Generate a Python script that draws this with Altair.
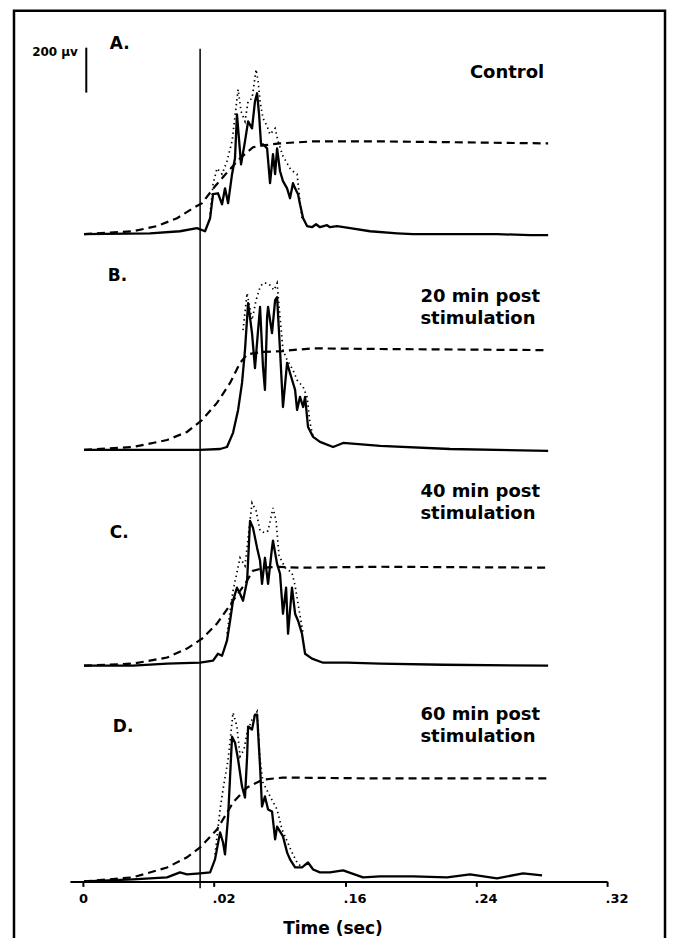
import altair as alt
import pandas as pd

# ---------------- data (time in s, amplitude in µV above each trace's baseline) ----------------
traces = ["A", "B", "C", "D"]
trace_offsets = [2880, 1920, 960, 0]   # vertical stacking of the four records (µV)

A_solid = [(0.0006, 0), (0.0409, 4), (0.0592, 13), (0.0696, 27), (0.0745, 13), (0.0776, 71), (0.0794, 178),
           (0.0824, 182), (0.0849, 133), (0.0867, 204), (0.0886, 138), (0.0910, 267), (0.0928, 338), (0.0940, 533),
           (0.0965, 311), (0.0989, 413), (0.1008, 502), (0.1032, 471), (0.1050, 591), (0.1063, 627), (0.1075, 533),
           (0.1087, 400), (0.1099, 400), (0.1124, 382), (0.1142, 227), (0.1160, 356), (0.1173, 267), (0.1185, 382),
           (0.1203, 280), (0.1221, 236), (0.1246, 204), (0.1264, 160), (0.1282, 227), (0.1295, 204), (0.1313, 178),
           (0.1325, 133), (0.1344, 71), (0.1368, 36), (0.1398, 31), (0.1423, 44), (0.1447, 31), (0.1490, 40),
           (0.1508, 31), (0.1551, 36), (0.1631, 27), (0.1753, 13), (0.1918, 4), (0.2015, 0), (0.2321, 0),
           (0.2528, 0), (0.2730, -4), (0.2840, -4)]
A_dotted = [(0.0776, 90), (0.0794, 222), (0.0818, 293), (0.0849, 267), (0.0879, 324), (0.0910, 413), (0.0947, 644),
            (0.0965, 547), (0.0989, 502), (0.1008, 591), (0.1032, 604), (0.1057, 733), (0.1069, 680), (0.1081, 591),
            (0.1099, 516), (0.1124, 480), (0.1142, 444), (0.1173, 471), (0.1191, 413), (0.1221, 347), (0.1264, 293),
            (0.1282, 280), (0.1307, 267), (0.1325, 147), (0.1337, 71)]
A_dashed = [(0.0006, 0), (0.0305, 13), (0.0452, 36), (0.0574, 71), (0.0672, 116), (0.0727, 138), (0.0806, 213),
            (0.0886, 280), (0.0959, 338), (0.1038, 387), (0.1111, 396), (0.1203, 404), (0.1405, 413), (0.1814, 413),
            (0.2840, 404)]

B_solid = [(0.0006, 0), (0.0715, 0), (0.0837, 4), (0.0879, 13), (0.0916, 76), (0.0947, 178), (0.0971, 298),
           (0.0989, 444), (0.1008, 653), (0.1032, 520), (0.1050, 364), (0.1069, 533), (0.1081, 636), (0.1099, 369),
           (0.1111, 267), (0.1124, 591), (0.1130, 636), (0.1154, 520), (0.1173, 667), (0.1185, 680), (0.1203, 444),
           (0.1221, 191), (0.1246, 387), (0.1264, 342), (0.1295, 267), (0.1307, 178), (0.1325, 236), (0.1344, 191),
           (0.1356, 236), (0.1374, 102), (0.1405, 58), (0.1447, 36), (0.1527, 13), (0.1588, 31), (0.1814, 18),
           (0.2241, 4), (0.2840, -4)]
B_dotted = [(0.0977, 533), (0.1002, 698), (0.1032, 578), (0.1057, 667), (0.1081, 724), (0.1099, 742), (0.1124, 742),
            (0.1142, 733), (0.1166, 711), (0.1185, 742), (0.1203, 591), (0.1221, 444), (0.1246, 400), (0.1282, 356),
            (0.1307, 311), (0.1344, 280), (0.1368, 236), (0.1386, 120), (0.1405, 58)]
B_dashed = [(0.0006, 0), (0.0305, 13), (0.0513, 44), (0.0635, 80), (0.0727, 133), (0.0818, 209), (0.0898, 298),
            (0.0959, 387), (0.1002, 425), (0.1093, 436), (0.1221, 440), (0.1307, 446), (0.1405, 452), (0.1814, 449),
            (0.2840, 444)]

C_solid = [(0.0006, 0), (0.0305, 0), (0.0513, 9), (0.0715, 13), (0.0794, 22), (0.0824, 53), (0.0849, 44),
           (0.0879, 111), (0.0898, 200), (0.0916, 289), (0.0940, 347), (0.0959, 320), (0.0977, 289), (0.1002, 378),
           (0.1020, 644), (0.1038, 613), (0.1063, 524), (0.1081, 467), (0.1093, 364), (0.1111, 480), (0.1130, 364),
           (0.1154, 524), (0.1160, 556), (0.1185, 453), (0.1203, 409), (0.1221, 231), (0.1240, 347), (0.1252, 142),
           (0.1276, 347), (0.1295, 231), (0.1313, 200), (0.1337, 142), (0.1356, 53), (0.1398, 31), (0.1466, 13),
           (0.1612, 13), (0.1814, 9), (0.2200, 4), (0.2840, 0)]
C_dotted = [(0.0879, 142), (0.0916, 333), (0.0959, 480), (0.0989, 444), (0.1032, 724), (0.1057, 689), (0.1081, 600),
            (0.1111, 591), (0.1130, 600), (0.1160, 702), (0.1179, 644), (0.1197, 489), (0.1234, 436), (0.1276, 413),
            (0.1295, 356), (0.1313, 276), (0.1344, 142)]
C_dashed = [(0.0006, 0), (0.0305, 9), (0.0513, 36), (0.0635, 76), (0.0727, 120), (0.0818, 187), (0.0916, 289),
            (0.0989, 364), (0.1038, 422), (0.1111, 436), (0.1185, 440), (0.1325, 436), (0.1814, 440), (0.2840, 436)]

D_solid = [(0.0006, 0), (0.0305, 9), (0.0513, 18), (0.0592, 40), (0.0635, 31), (0.0715, 36), (0.0776, 40),
           (0.0806, 98), (0.0837, 218), (0.0855, 173), (0.0867, 120), (0.0886, 289), (0.0910, 644), (0.0928, 618),
           (0.0947, 542), (0.0971, 422), (0.0989, 373), (0.1002, 556), (0.1008, 689), (0.1032, 676), (0.1050, 742),
           (0.1063, 742), (0.1081, 511), (0.1093, 333), (0.1111, 378), (0.1130, 320), (0.1154, 311), (0.1173, 187),
           (0.1185, 244), (0.1221, 200), (0.1246, 129), (0.1264, 98), (0.1295, 62), (0.1337, 62), (0.1374, 84),
           (0.1405, 53), (0.1447, 40), (0.1508, 40), (0.1588, 49), (0.1710, 18), (0.1814, 22), (0.2015, 22),
           (0.2223, 18), (0.2363, 31), (0.2528, 13), (0.2687, 36), (0.2803, 27)]
D_dotted = [(0.0806, 120), (0.0837, 320), (0.0855, 409), (0.0886, 542), (0.0916, 751), (0.0940, 689), (0.0959, 556),
            (0.0983, 587), (0.1002, 662), (0.1032, 720), (0.1063, 756), (0.1081, 542), (0.1099, 440), (0.1142, 378),
            (0.1185, 320), (0.1215, 231), (0.1276, 129), (0.1307, 84), (0.1337, 62)]
D_dashed = [(0.0006, 0), (0.0305, 18), (0.0513, 62), (0.0635, 107), (0.0715, 151), (0.0818, 231), (0.0916, 351),
            (0.1002, 418), (0.1099, 453), (0.1221, 462), (0.1814, 458), (0.2840, 458)]

stimulus_time = 0.0715
scale_bar_uv = 200
scale_bar_base = 3510
scale_bar_time = 0.002

tick_values = [0, 0.08, 0.16, 0.24, 0.32]
tick_labels = ["0", ".02", ".16", ".24", ".32"]

panel_letters = ["A.", "B.", "C.", "D."]
panel_notes = [["Control"], ["20 min post", "stimulation"], ["40 min post", "stimulation"], ["60 min post", "stimulation"]]

# ---------------- build table ----------------
series = {
    "A": (A_solid, A_dotted, A_dashed),
    "B": (B_solid, B_dotted, B_dashed),
    "C": (C_solid, C_dotted, C_dashed),
    "D": (D_solid, D_dotted, D_dashed),
}
rows = []
for name, off in zip(traces, trace_offsets):
    for kind, pts in zip(["solid", "dotted", "dashed"], series[name]):
        for i, (t, v) in enumerate(pts):
            rows.append({"trace": name, "kind": kind, "i": i, "t": t, "amp": v, "off": off})
df = pd.DataFrame(rows)

FONT = "DejaVu Sans"

label_expr = "".join(
    f"abs(datum.value - {v}) < 1e-6 ? '{l}' : " for v, l in zip(tick_values, tick_labels)
) + "''"

x_enc = alt.X(
    "t:Q",
    scale=alt.Scale(domain=[-0.008, 0.32], nice=False, zero=False),
    axis=alt.Axis(
        values=tick_values,
        labelExpr=label_expr,
        title="Time (sec)",
        grid=False,
        labelFlush=False,
        labelAlign={"condition": {"test": "datum.value == 0", "value": "center"}, "value": "left"},
        labelOffset={"condition": {"test": "datum.value == 0", "value": 0}, "value": -2},
        titleX=263,
    ),
)
y_enc = alt.Y("y:Q", scale=alt.Scale(domain=[0, 3830], nice=False, zero=False), axis=None)

base = alt.Chart(df).transform_calculate(y="datum.amp + datum.off")

solid = base.transform_filter("datum.kind == 'solid'").mark_line(
    color="black", strokeWidth=2.3, strokeJoin="round"
).encode(x=x_enc, y=y_enc, detail="trace:N", order="i:Q")

dotted = base.transform_filter("datum.kind == 'dotted'").mark_line(
    color="black", strokeWidth=1.7, strokeDash=[1.4, 3.4]
).encode(x=x_enc, y=y_enc, detail="trace:N", order="i:Q")

dashed = base.transform_filter("datum.kind == 'dashed'").mark_line(
    color="black", strokeWidth=2.2, strokeDash=[8, 5]
).encode(x=x_enc, y=y_enc, detail="trace:N", order="i:Q")

stim = alt.Chart(pd.DataFrame({"t": [stimulus_time]})).mark_rule(color="black", strokeWidth=1.5).encode(
    x=x_enc, y=alt.value(28), y2=alt.value(869)
)

bar = alt.Chart(pd.DataFrame({"t": [scale_bar_time], "y": [scale_bar_base], "y2": [scale_bar_base + scale_bar_uv]})).mark_rule(
    color="black", strokeWidth=2
).encode(x=x_enc, y=y_enc, y2="y2:Q")

frame = alt.Chart(pd.DataFrame({"a": [0]})).mark_rect(
    fill="white", fillOpacity=0, stroke="black", strokeWidth=2.5
).encode(x=alt.value(-56), x2=alt.value(596), y=alt.value(-10), y2=alt.value(960))

# annotation texts (pixel positions relative to the plot area)
letter_pos = [(40, 28), (38, 261), (40, 518), (43, 712)]
note_pos = [(475, 57, "right"), (351, 282, "left"), (351, 477, "left"), (351, 700, "left")]
note_line_gap = 22

texts = []
for (lx, ly), letter in zip(letter_pos, panel_letters):
    texts.append(
        alt.Chart(pd.DataFrame({"s": [letter]})).mark_text(
            font=FONT, fontWeight="bold", fontSize=17, align="left", baseline="alphabetic", color="black"
        ).encode(x=alt.value(lx), y=alt.value(ly), text="s:N")
    )
for (nx, ny, al), lines in zip(note_pos, panel_notes):
    for k, line in enumerate(lines):
        texts.append(
            alt.Chart(pd.DataFrame({"s": [line]})).mark_text(
                font=FONT, fontWeight="bold", fontSize=18, align=al, baseline="alphabetic", color="black"
            ).encode(x=alt.value(nx), y=alt.value(ny + k * note_line_gap), text="s:N")
        )
texts.append(
    alt.Chart(pd.DataFrame({"s": ["200 µv"]})).mark_text(
        font=FONT, fontWeight="bold", fontSize=12, align="right", baseline="alphabetic", color="black"
    ).encode(x=alt.value(8), y=alt.value(35), text="s:N")
)

chart = alt.layer(frame, dashed, dotted, solid, stim, bar, *texts).properties(
    width=538,
    height=862,
    padding={"left": 62, "top": 12, "right": 62, "bottom": 56},
    autosize=alt.AutoSizeParams(type="none"),
).configure_view(strokeWidth=0).configure_axis(
    domainColor="black",
    domainWidth=2,
    tickColor="black",
    tickWidth=2,
    tickSize=5,
    labelFont=FONT,
    labelFontWeight="bold",
    labelFontSize=13,
    labelColor="black",
    labelPadding=6,
    titleFont=FONT,
    titleFontWeight="bold",
    titleFontSize=17,
    titleColor="black",
    titlePadding=15,
)

chart.save("out.html", embed_options={"renderer": "svg", "actions": False})
